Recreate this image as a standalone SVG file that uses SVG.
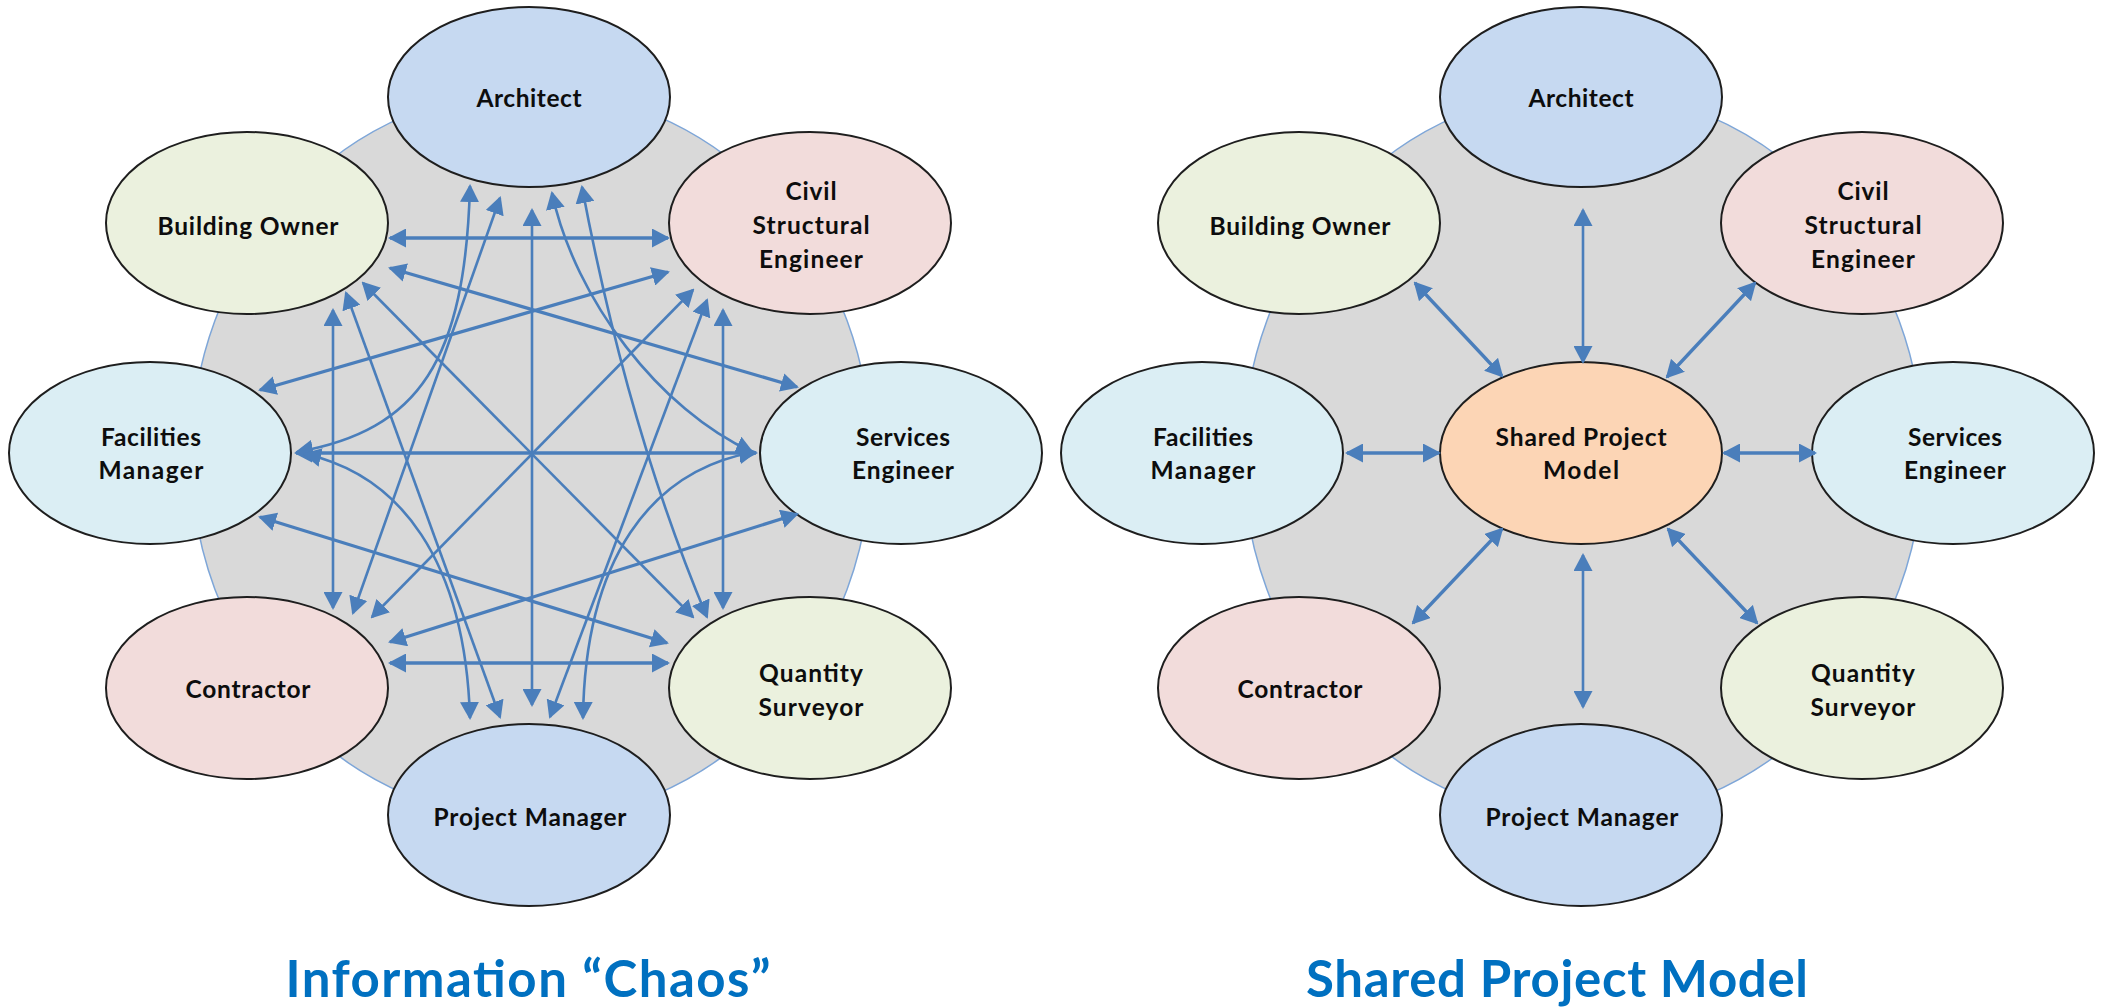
<svg xmlns="http://www.w3.org/2000/svg" width="2101" height="1008" viewBox="0 0 2101 1008">
<defs>
<marker id="ah" viewBox="0 0 18 19" refX="16" refY="9.5" markerWidth="18" markerHeight="19" markerUnits="userSpaceOnUse" orient="auto-start-reverse"><path d="M0,0 L18,9.5 L0,19 z" fill="#4A7EBB"/></marker>
</defs>
<style>
.ring{fill:#D9D9D9;stroke:#7EA6D8;stroke-width:1.5}
.node{stroke:#1E1E1E;stroke-width:2}
.blue{fill:#C6D9F1}.green{fill:#EBF1DE}.pink{fill:#F2DCDB}.cyan{fill:#DBEEF4}.orange{fill:#FCD5B5}
.lbl{font-family:Lato,"Open Sans","Liberation Sans",sans-serif;font-weight:bold;font-size:24.5px;fill:#0d0d0d;text-anchor:middle}
.title{font-family:Lato,"Open Sans","Liberation Sans",sans-serif;font-weight:bold;font-size:51px;fill:#0070C0;text-anchor:middle}
.c{fill:none;stroke:#4A7EBB;marker-start:url(#ah);marker-end:url(#ah)}
.t{stroke-width:2.6}.k{stroke-width:3.3}
</style>
<rect width="2101" height="1008" fill="#fff"/>
<g id="ring-left"><ellipse class="ring" cx="531" cy="455" rx="340" ry="365"/></g>
<g id="ring-right"><ellipse class="ring" cx="1583" cy="455" rx="340" ry="365"/></g>

<g id="L-architect"><ellipse class="node blue" cx="529" cy="97" rx="141" ry="90"/><text class="lbl" x="529" y="107" textLength="105">Architect</text></g>
<g id="L-building-owner"><ellipse class="node green" cx="247" cy="223" rx="141" ry="91"/><text class="lbl" x="248" y="235" textLength="181">Building Owner</text></g>
<g id="L-civil"><ellipse class="node pink" cx="810" cy="223" rx="141" ry="91"/><text class="lbl" x="811" y="200" textLength="51">Civil</text><text class="lbl" x="811" y="234" textLength="117">Structural</text><text class="lbl" x="811" y="268" textLength="104">Engineer</text></g>
<g id="L-facilities"><ellipse class="node cyan" cx="150" cy="453" rx="141" ry="91"/><text class="lbl" x="151" y="446" textLength="100">Facilities</text><text class="lbl" x="151" y="479" textLength="105">Manager</text></g>
<g id="L-services"><ellipse class="node cyan" cx="901" cy="453" rx="141" ry="91"/><text class="lbl" x="903" y="446" textLength="94">Services</text><text class="lbl" x="903" y="479" textLength="102">Engineer</text></g>
<g id="L-contractor"><ellipse class="node pink" cx="247" cy="688" rx="141" ry="91"/><text class="lbl" x="248" y="698" textLength="125">Contractor</text></g>
<g id="L-qs"><ellipse class="node green" cx="810" cy="688" rx="141" ry="91"/><text class="lbl" x="811" y="682" textLength="104">Quantity</text><text class="lbl" x="811" y="716" textLength="105">Surveyor</text></g>
<g id="L-pm"><ellipse class="node blue" cx="529" cy="815" rx="141" ry="91"/><text class="lbl" x="530" y="826" textLength="193">Project Manager</text></g>

<g id="R-architect"><ellipse class="node blue" cx="1581" cy="97" rx="141" ry="90"/><text class="lbl" x="1581" y="107" textLength="105">Architect</text></g>
<g id="R-building-owner"><ellipse class="node green" cx="1299" cy="223" rx="141" ry="91"/><text class="lbl" x="1300" y="235" textLength="181">Building Owner</text></g>
<g id="R-civil"><ellipse class="node pink" cx="1862" cy="223" rx="141" ry="91"/><text class="lbl" x="1863" y="200" textLength="51">Civil</text><text class="lbl" x="1863" y="234" textLength="117">Structural</text><text class="lbl" x="1863" y="268" textLength="104">Engineer</text></g>
<g id="R-facilities"><ellipse class="node cyan" cx="1202" cy="453" rx="141" ry="91"/><text class="lbl" x="1203" y="446" textLength="100">Facilities</text><text class="lbl" x="1203" y="479" textLength="105">Manager</text></g>
<g id="R-shared"><ellipse class="node orange" cx="1581" cy="453" rx="141" ry="91"/><text class="lbl" x="1581" y="446" textLength="171">Shared Project</text><text class="lbl" x="1581" y="479" textLength="76">Model</text></g>
<g id="R-services"><ellipse class="node cyan" cx="1953" cy="453" rx="141" ry="91"/><text class="lbl" x="1955" y="446" textLength="94">Services</text><text class="lbl" x="1955" y="479" textLength="102">Engineer</text></g>
<g id="R-contractor"><ellipse class="node pink" cx="1299" cy="688" rx="141" ry="91"/><text class="lbl" x="1300" y="698" textLength="125">Contractor</text></g>
<g id="R-qs"><ellipse class="node green" cx="1862" cy="688" rx="141" ry="91"/><text class="lbl" x="1863" y="682" textLength="104">Quantity</text><text class="lbl" x="1863" y="716" textLength="105">Surveyor</text></g>
<g id="R-pm"><ellipse class="node blue" cx="1581" cy="815" rx="141" ry="91"/><text class="lbl" x="1582" y="826" textLength="193">Project Manager</text></g>

<g id="connectors">
<path class="c k" d="M390,238 H668"/>
<path class="c k" d="M296,453 H756"/>
<path class="c k" d="M390,663 H668"/>
<path class="c k" d="M390,268 L797,387"/>
<path class="c k" d="M668,272 L260,390"/>
<path class="c k" d="M260,517 L667,643"/>
<path class="c k" d="M797,514 L390,642"/>
<path class="c t" d="M532,210 V705"/>
<path class="c t" d="M333,310 V608"/>
<path class="c t" d="M723,310 V608"/>
<path class="c t" d="M470,186 C465,360 420,430 297,452"/>
<path class="c t" d="M552,193 C575,300 660,410 752,452"/>
<path class="c t" d="M582,187 Q628,430 707,617"/>
<path class="c t" d="M500,198 L353,613"/>
<path class="c t" d="M305,454 C400,475 465,560 470,718"/>
<path class="c t" d="M755,452 C650,470 585,560 583,718"/>
<path class="c t" d="M346,293 L500,717"/>
<path class="c t" d="M363,283 L693,617"/>
<path class="c t" d="M707,300 L550,717"/>
<path class="c t" d="M693,290 L372,617"/>

<path class="c t" d="M1583,210 V362"/>
<path class="c t" d="M1583,555 V707"/>
<path class="c k" d="M1415,283 L1502,376"/>
<path class="c k" d="M1755,283 L1667,377"/>
<path class="c k" d="M1347,453 H1439"/>
<path class="c k" d="M1724,453 H1815"/>
<path class="c k" d="M1502,529 L1413,623"/>
<path class="c k" d="M1668,529 L1757,623"/>
</g>

<g id="titles">
<text class="title" x="528" y="997" textLength="485">Information “Chaos”</text>
<text class="title" x="1557" y="997" textLength="502">Shared Project Model</text>
</g>
</svg>
